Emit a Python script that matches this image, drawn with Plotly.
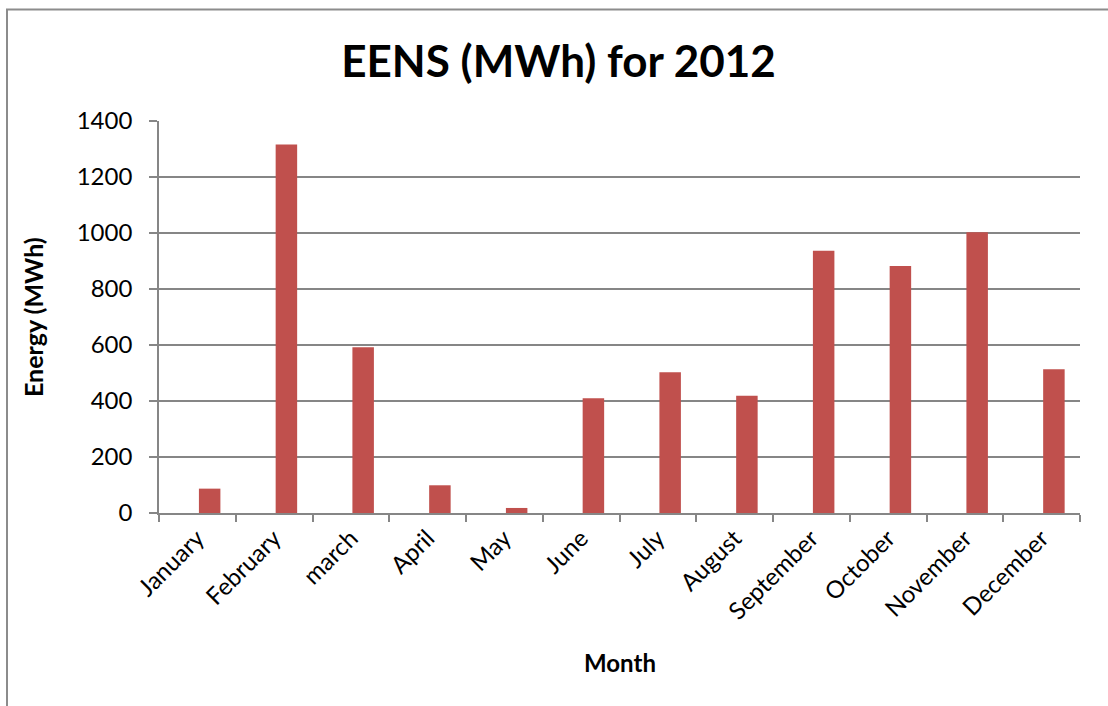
import plotly.graph_objects as go

# Monthly expected energy not served, 2012
months = ["January", "February", "march", "April", "May", "June",
          "July", "August", "September", "October", "November", "December"]
eens_mwh = [87, 1316, 592, 99, 18, 410, 503, 419, 937, 882, 1003, 513]

y_ticks = [0, 200, 400, 600, 800, 1000, 1200, 1400]

FONT = "Lato, 'Liberation Sans', Arial, sans-serif"
GRID = "#868686"

W, H = 1108, 706
L, R, T, B = 159, 28, 121, 193
plot_w = W - L - R
plot_h = H - T - B

fig = go.Figure()
fig.add_trace(go.Bar(
    x=months,
    y=eens_mwh,
    width=0.28,
    offset=0.02,
    marker=dict(color="#C0504D", line=dict(width=0)),
    showlegend=False,
))

fig.update_layout(
    width=W,
    height=H,
    margin=dict(l=L, r=R, t=T, b=B),
    paper_bgcolor="white",
    plot_bgcolor="white",
    font=dict(family=FONT, color="black", size=23),
    title=dict(
        text="<b>EENS (MWh) for 2012</b>",
        x=558.5 / W,
        xanchor="center",
        y=1 - 62 / H,
        yanchor="middle",
        yref="container",
        font=dict(family=FONT, size=44, color="black"),
    ),
    xaxis=dict(
        type="category",
        tickson="boundaries",
        ticks="outside",
        ticklen=7,
        tickcolor=GRID,
        tickwidth=1.6,
        showline=True,
        linecolor=GRID,
        linewidth=1.6,
        showgrid=False,
        tickangle=-45,
        tickfont=dict(family=FONT, size=24),
    ),
    yaxis=dict(
        range=[0, 1400],
        tickvals=y_ticks,
        ticktext=[str(v) for v in y_ticks],
        ticks="outside",
        ticklen=8,
        tickcolor=GRID,
        tickwidth=1.6,
        showline=True,
        linecolor=GRID,
        linewidth=1.6,
        showgrid=True,
        gridcolor=GRID,
        gridwidth=1.6,
        zeroline=False,
        ticklabelstandoff=12,
        tickfont=dict(family=FONT, size=24),
    ),
    annotations=[
        dict(
            text="<b>Month</b>",
            xref="paper", yref="paper",
            x=0.5, y=-(662 - (H - B)) / plot_h,
            xanchor="center", yanchor="middle",
            showarrow=False,
            font=dict(family=FONT, size=24),
        ),
        dict(
            text="<b>Energy (MWh)</b>",
            xref="paper", yref="paper",
            x=(33 - L) / plot_w, y=1 - (317 - T) / plot_h,
            xanchor="center", yanchor="middle",
            textangle=-90,
            showarrow=False,
            font=dict(family=FONT, size=25),
        ),
    ],
    shapes=[
        dict(
            type="rect",
            xref="paper", yref="paper",
            x0=(7 - L) / plot_w, x1=(W + 20 - L) / plot_w,
            y0=-(H + 20 - (H - B)) / plot_h, y1=1 + (T - 9.5) / plot_h,
            line=dict(color="#8c8c8c", width=2),
            layer="below",
        )
    ],
)

fig.write_html("out.html")
